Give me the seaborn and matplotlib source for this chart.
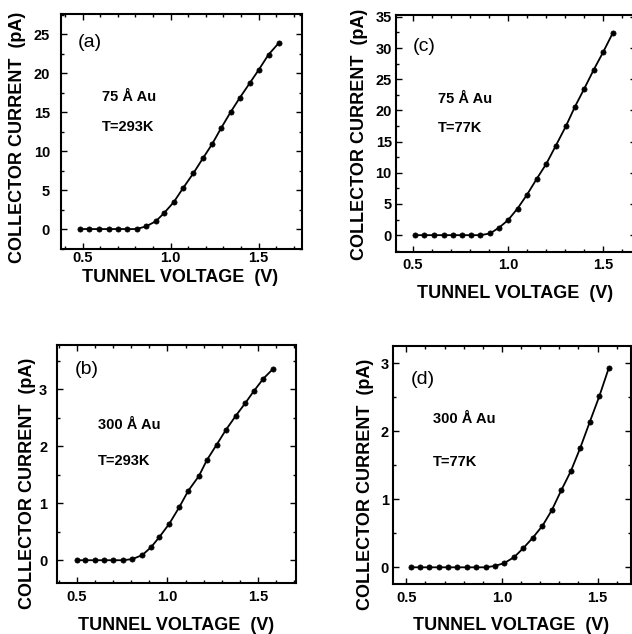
import numpy as np
import pandas as pd
import matplotlib
matplotlib.use("Agg")
import matplotlib.pyplot as plt
from matplotlib.ticker import MultipleLocator
import seaborn as sns

sns.set_theme(style="ticks")
plt.rcParams['font.family'] = ['Liberation Sans', 'DejaVu Sans']

# ---- data ----
voltage_a = [0.485, 0.538, 0.593, 0.648, 0.701, 0.754, 0.807, 0.861, 0.916, 0.963, 1.018,
             1.071, 1.130, 1.183, 1.236, 1.287, 1.341, 1.392, 1.449, 1.500, 1.557, 1.614]
current_a = [0, 0, 0, 0, 0, 0, 0, 0.35, 1.0, 2.05, 3.46,
             5.26, 7.18, 9.06, 10.9, 12.95, 15.0, 16.8, 18.7, 20.4, 22.4, 23.85]

voltage_b = [0.500, 0.547, 0.598, 0.650, 0.700, 0.755, 0.806, 0.861, 0.910, 0.956, 1.010,
             1.065, 1.115, 1.174, 1.218, 1.272, 1.323, 1.376, 1.430, 1.477, 1.530, 1.583]
current_b = [0, 0, 0, 0, 0, 0, 0.02, 0.09, 0.23, 0.41, 0.64,
             0.93, 1.22, 1.48, 1.76, 2.03, 2.29, 2.53, 2.76, 2.97, 3.19, 3.36]

voltage_c = [0.512, 0.561, 0.612, 0.663, 0.712, 0.760, 0.804, 0.855, 0.906, 0.953, 1.000,
             1.050, 1.100, 1.150, 1.200, 1.250, 1.304, 1.351, 1.400, 1.449, 1.498, 1.549]
current_c = [0, 0, 0, 0, 0, 0, 0, 0, 0.27, 1.2, 2.4,
             4.27, 6.5, 9.0, 11.4, 14.3, 17.5, 20.6, 23.5, 26.5, 29.3, 32.4]

voltage_d = [0.523, 0.572, 0.620, 0.671, 0.720, 0.767, 0.816, 0.866, 0.915, 0.962, 1.011,
             1.064, 1.111, 1.160, 1.212, 1.261, 1.310, 1.360, 1.409, 1.460, 1.509, 1.558]
current_d = [0, 0, 0, 0, 0, 0, 0, 0, 0, 0.02, 0.06,
             0.15, 0.28, 0.43, 0.61, 0.84, 1.13, 1.41, 1.75, 2.14, 2.51, 2.92]

panel_labels = ["(a)", "(b)", "(c)", "(d)"]
film_labels = ["75 Å Au", "300 Å Au", "75 Å Au", "300 Å Au"]
temp_labels = ["T=293K", "T=293K", "T=77K", "T=77K"]
x_ticks = [0.5, 1.0, 1.5]
x_tick_labels = ["0.5", "1.0", "1.5"]
y_label = "COLLECTOR CURRENT  (pA)"
x_label = "TUNNEL VOLTAGE  (V)"

W, H = 632, 634
fig = plt.figure(figsize=(W / 100, H / 100), dpi=100)
fig.patch.set_facecolor("white")

def px_axes(l, r, t, b):
    return fig.add_axes([l / W, 1 - b / H, (r - l) / W, (b - t) / H])

panels = [
    dict(v=voltage_a, c=current_a, box=(61, 302, 14, 249), xlim=(0.377, 1.747), ylim=(-2.56, 27.6),
         ymaj=5, ymin=2.5, ypad=8, xpad=1.5, tp=(0.07, 0.877), fp=(0.17, 0.647, 0.519),
         ylp=(18, 137), xlp=(180, 278)),
    dict(v=voltage_b, c=current_b, box=(57, 296, 345, 583), xlim=(0.39, 1.71), ylim=(-0.40, 3.78),
         ymaj=1, ymin=0.5, ypad=7, xpad=5, tp=(0.075, 0.895), fp=(0.172, 0.664, 0.513),
         ylp=(28, 483), xlp=(176, 625)),
    dict(v=voltage_c, c=current_c, box=(396, 636, 15, 252), xlim=(0.413, 1.671), ylim=(-2.7, 35.3),
         ymaj=5, ymin=2.5, ypad=3, xpad=4, tp=(0.071, 0.865), fp=(0.175, 0.646, 0.523),
         ylp=(359, 134), xlp=(515, 293)),
    dict(v=voltage_d, c=current_d, box=(393, 631, 346, 584), xlim=(0.430, 1.675), ylim=(-0.245, 3.25),
         ymaj=1, ymin=0.5, ypad=3, xpad=5, tp=(0.076, 0.861), fp=(0.168, 0.693, 0.513),
         ylp=(365, 484), xlp=(511, 625)),
]

for i, p in enumerate(panels):
    ax = px_axes(*p["box"])
    df = pd.DataFrame({"V": p["v"], "I": p["c"]})
    sns.lineplot(data=df, x="V", y="I", ax=ax, color="black", linewidth=1.3)
    sns.scatterplot(data=df, x="V", y="I", ax=ax, color="black", s=14, edgecolor="black",
                    linewidth=0.5, zorder=3)
    ax.set_xlim(*p["xlim"])
    ax.set_ylim(*p["ylim"])
    ax.set_xticks(x_ticks)
    ax.set_xticklabels(x_tick_labels)
    ax.xaxis.set_minor_locator(MultipleLocator(0.1))
    ax.yaxis.set_major_locator(MultipleLocator(p["ymaj"]))
    ax.yaxis.set_minor_locator(MultipleLocator(p["ymin"]))
    ax.tick_params(which="both", direction="in", top=True, right=True, color="black", width=1.0)
    ax.tick_params(which="major", length=4.5)
    ax.tick_params(which="minor", length=2.5)
    ax.tick_params(axis="y", which="major", pad=p["ypad"])
    ax.tick_params(axis="x", which="major", pad=p["xpad"])
    for lab in ax.get_xticklabels() + ax.get_yticklabels():
        lab.set_fontweight("bold")
        lab.set_fontsize(10.5)
        lab.set_color("black")
    for s in ax.spines.values():
        s.set_linewidth(1.5)
        s.set_color("black")
    ax.set_xlabel("")
    ax.set_ylabel("")
    ax.set_facecolor("white")
    ax.text(p["tp"][0], p["tp"][1], panel_labels[i], transform=ax.transAxes, fontsize=14,
            ha="left", va="center", color="black")
    ax.text(p["fp"][0], p["fp"][1], film_labels[i], transform=ax.transAxes, fontsize=10.5,
            fontweight="bold", ha="left", va="center", color="black")
    ax.text(p["fp"][0], p["fp"][2], temp_labels[i], transform=ax.transAxes, fontsize=10.5,
            fontweight="bold", ha="left", va="center", color="black")
    fig.text(p["ylp"][0] / W, 1 - p["ylp"][1] / H, y_label, rotation=90, fontsize=13,
             fontweight="bold", ha="center", va="center", color="black")
    fig.text(p["xlp"][0] / W, 1 - p["xlp"][1] / H, x_label, fontsize=13,
             fontweight="bold", ha="center", va="center", color="black")

fig.savefig("out.png", dpi=100, facecolor="white")
